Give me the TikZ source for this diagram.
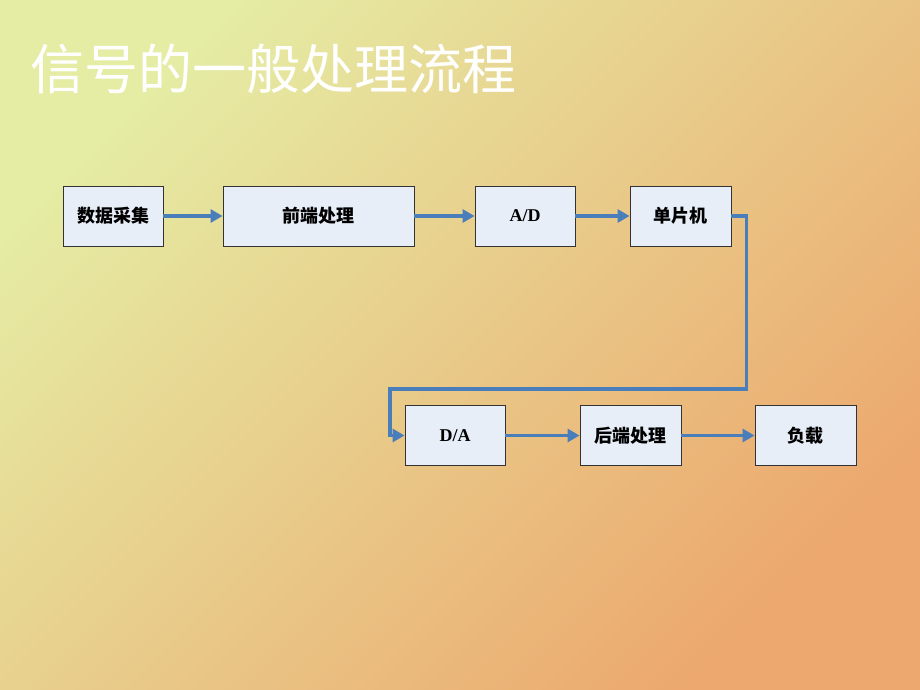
\documentclass[tikz,border=0pt]{standalone}
\usepackage{fontspec}
\setmainfont{Liberation Serif}
\newfontfamily\cjk{Noto Sans CJK SC}
\usetikzlibrary{arrows.meta}
\definecolor{bgA}{RGB}{229,236,164}
\definecolor{bgB}{RGB}{236,168,110}
\definecolor{boxfill}{RGB}{232,238,248}
\definecolor{arrowblue}{RGB}{74,126,187}
\tikzset{
  blk/.style={draw=black!80, line width=0.9pt, fill=boxfill, minimum height=60pt, inner sep=0pt, font=\fontsize{18}{20}\selectfont\bfseries},
  conn/.style={draw=arrowblue, line width=3.2pt, -{Triangle[length=12pt,width=13pt]}},
}
\begin{document}
\begin{tikzpicture}[x=1pt,y=-1pt]
\useasboundingbox (0,0) rectangle (920,690);
\shade[top color=bgA, bottom color=bgB, shading angle=45] (0,0) rectangle (920,690);
\node[anchor=base west, text=white, font=\cjk\fontsize{54}{58}\selectfont, inner sep=0pt] (title) at (30,90) {信号的一般处理流程};
\node[blk, minimum width=100pt] (daq) at (113,216) {\cjk 数据采集};
\node[blk, minimum width=191pt] (fe) at (318.5,216) {\cjk 前端处理};
\node[blk, minimum width=100pt] (ad) at (525,216) {A/D};
\node[blk, minimum width=101pt] (mcu) at (680.5,216) {\cjk 单片机};
\node[blk, minimum width=100pt] (da) at (455,435.5) {D/A};
\node[blk, minimum width=101pt] (be) at (630.5,435.5) {\cjk 后端处理};
\node[blk, minimum width=101pt] (load) at (805.5,435.5) {\cjk 负载};
\draw[conn] (daq) -- (fe);
\draw[conn] (fe) -- (ad);
\draw[conn] (ad) -- (mcu);
\draw[conn] (mcu.east) -- ++(15,0) |- (568,389) -| (390,435.5) -- (da.west);
\draw[conn] (da) -- (be);
\draw[conn] (be) -- (load);
\end{tikzpicture}
\end{document}
